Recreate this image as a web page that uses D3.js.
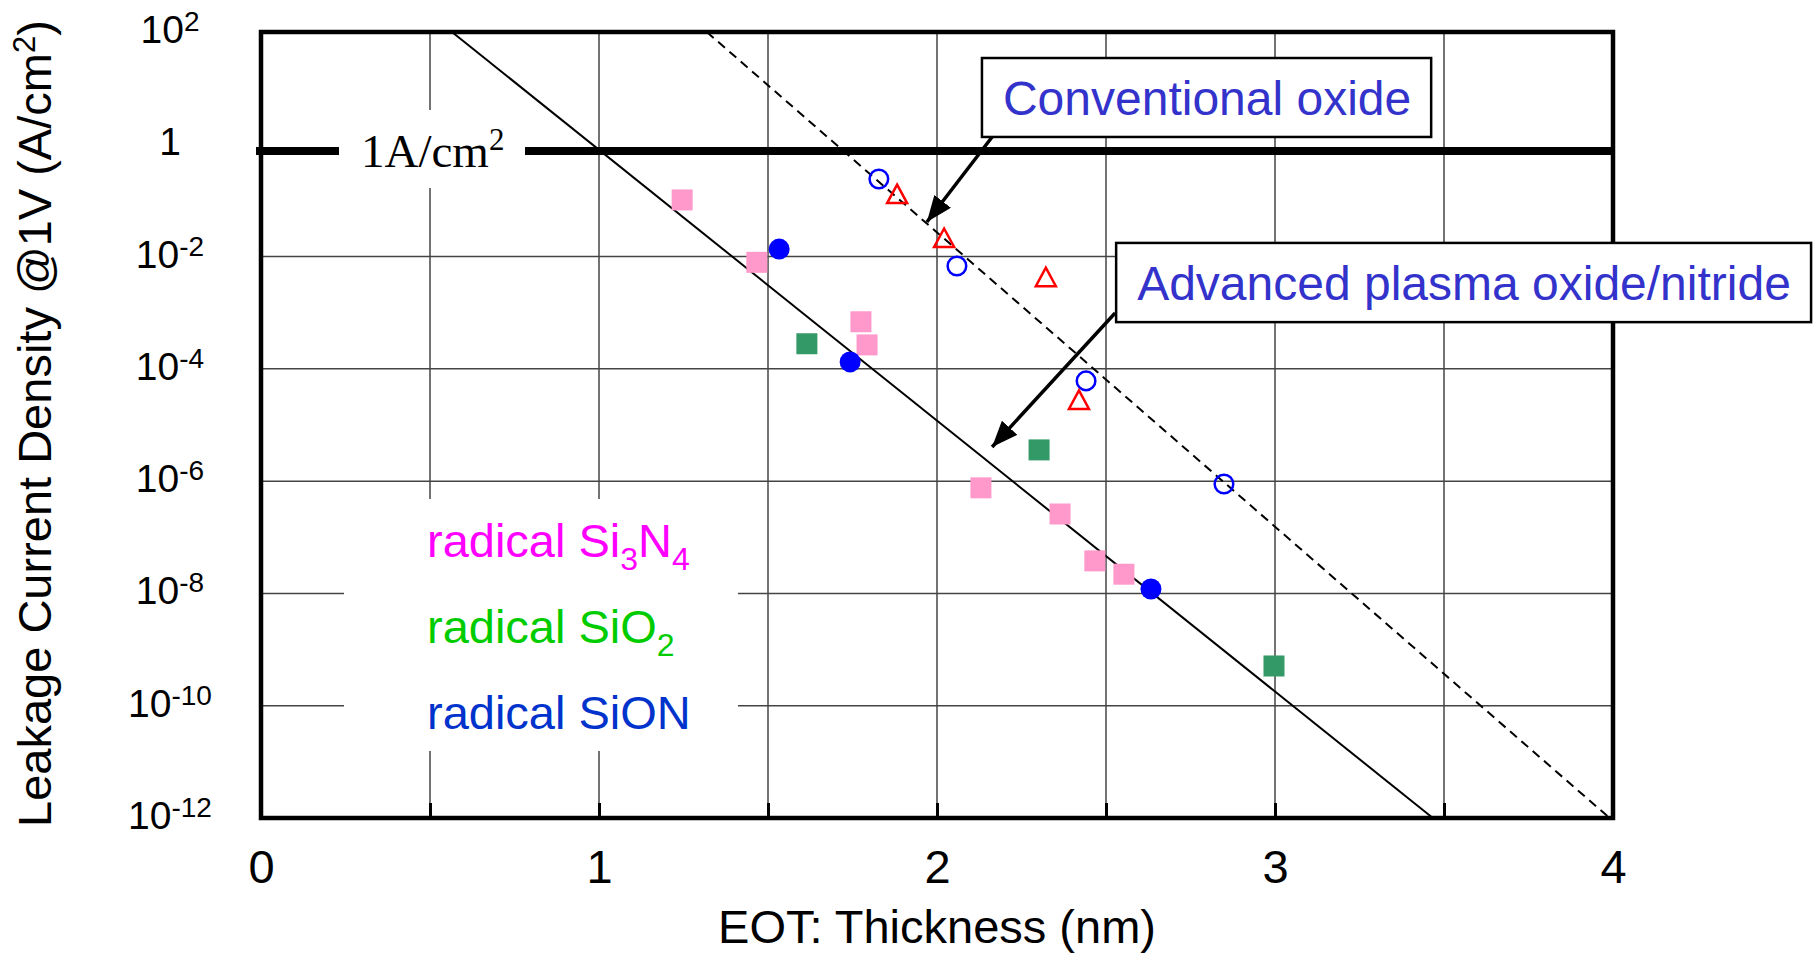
<!DOCTYPE html>
<meta charset="utf-8">
<style>
body{ margin:0; background:white; }
text{ font-family: "Liberation Sans", Arial, sans-serif; }
.serif{ font-family: "Liberation Serif", "Times New Roman", serif; }
</style>
<script src="https://d3js.org/d3.v7.min.js"></script>
<svg id="chart"></svg>
<script>
// data (x = EOT nm, y = A/cm2)
var si3n4X = [1.246, 1.467, 1.775, 1.793, 2.130, 2.364, 2.467, 2.553]
var si3n4Y = [1.02e-1, 7.9e-3, 6.9e-4, 2.67e-4, 7.6e-7, 2.6e-7, 3.8e-8, 2.2e-8]
var sio2X = [1.615, 2.302, 2.997]
var sio2Y = [2.8e-4, 3.6e-6, 5.1e-10]
var sionX = [1.533, 1.743, 2.633]
var sionY = [1.36e-2, 1.33e-4, 1.2e-8]
var convCircleX = [1.828, 2.059, 2.441, 2.849]
var convCircleY = [2.41e-1, 6.8e-3, 6.1e-5, 8.9e-7]
var convTriX = [1.882, 2.021, 2.322, 2.420]
var convTriY = [1.30e-1, 2.14e-2, 4.3e-3, 2.8e-5]

// fitted trend lines (end points)
var solidLineX = [0.565, 3.467], solidLineY = [1e2, 1e-12]
var dashLineX = [1.319, 3.99], dashLineY = [1e2, 1e-12]
var limitY = 0.76   // the "1A/cm2" bar

var xTicks = [0, 1, 2, 3, 4]
var xMinor = [0, 0.5, 1, 1.5, 2, 2.5, 3, 3.5, 4]
var xGrid = [0.5, 1, 1.5, 2, 2.5, 3, 3.5]
var yTickExp = [2, 0, -2, -4, -6, -8, -10, -12]
var yGrid = [1e-2, 1e-4, 1e-6, 1e-8, 1e-10]

var svg_width = 1818, svg_height = 953
var margin = {top: 32, left: 261, right: 205, bottom: 135}
var svg = d3.select('#chart').attr('width', svg_width).attr('height', svg_height)

var x = d3.scaleLinear().domain([0, 4]).range([margin.left, svg_width - margin.right])
var y = d3.scaleLog().domain([1e-12, 1e2]).range([svg_height - margin.bottom, margin.top])
var x0 = x(0), x1 = x(4), y0 = y(1e-12), y1 = y(1e2)

// grid
svg.append('g').selectAll('line').data(xGrid).enter().append('line')
  .attr('x1', d => x(d)).attr('x2', d => x(d)).attr('y1', y1).attr('y2', y0)
  .attr('stroke', '#444').attr('stroke-width', 1.5)
svg.append('g').selectAll('line').data(yGrid).enter().append('line')
  .attr('x1', x0).attr('x2', x1).attr('y1', d => y(d)).attr('y2', d => y(d))
  .attr('stroke', '#444').attr('stroke-width', 1.5)

// white patch behind the legend
svg.append('rect').attr('x', 344).attr('y', 499).attr('width', 394).attr('height', 252).attr('fill', 'white')

// trend lines
svg.append('line')
  .attr('x1', x(solidLineX[0])).attr('y1', y(solidLineY[0]))
  .attr('x2', x(solidLineX[1])).attr('y2', y(solidLineY[1]))
  .attr('stroke', 'black').attr('stroke-width', 2)
svg.append('line')
  .attr('x1', x(dashLineX[0])).attr('y1', y(dashLineY[0]))
  .attr('x2', x(dashLineX[1])).attr('y2', y(dashLineY[1]))
  .attr('stroke', 'black').attr('stroke-width', 2).attr('stroke-dasharray', '9,6')

// 1A/cm2 bar
svg.append('line').attr('x1', x0 - 5).attr('x2', x1).attr('y1', y(limitY)).attr('y2', y(limitY))
  .attr('stroke', 'black').attr('stroke-width', 8)
svg.append('rect').attr('x', 339).attr('y', 110).attr('width', 186).attr('height', 78).attr('fill', 'white')
var lim = svg.append('text').attr('class', 'serif').attr('x', 361).attr('y', y(limitY) + 16)
  .attr('font-size', 47).attr('fill', 'black')
lim.append('tspan').text('1A/cm')
lim.append('tspan').attr('dy', -17).attr('font-size', 31).text('2')

// points
var sq = 21
svg.append('g').selectAll('rect').data(d3.zip(si3n4X, si3n4Y)).enter().append('rect')
  .attr('x', d => x(d[0]) - sq / 2).attr('y', d => y(d[1]) - sq / 2)
  .attr('width', sq).attr('height', sq).attr('fill', '#FF99CC')
svg.append('g').selectAll('rect').data(d3.zip(sio2X, sio2Y)).enter().append('rect')
  .attr('x', d => x(d[0]) - sq / 2).attr('y', d => y(d[1]) - sq / 2)
  .attr('width', sq).attr('height', sq).attr('fill', '#339966')
svg.append('g').selectAll('circle').data(d3.zip(sionX, sionY)).enter().append('circle')
  .attr('cx', d => x(d[0])).attr('cy', d => y(d[1])).attr('r', 10.5).attr('fill', '#0000FF')
svg.append('g').selectAll('circle').data(d3.zip(convCircleX, convCircleY)).enter().append('circle')
  .attr('cx', d => x(d[0])).attr('cy', d => y(d[1])).attr('r', 9.3)
  .attr('fill', 'none').attr('stroke', '#0000FF').attr('stroke-width', 2.5)
svg.append('g').selectAll('path').data(d3.zip(convTriX, convTriY)).enter().append('path')
  .attr('d', d => {
    var cx = x(d[0]), cy = y(d[1])
    return 'M' + cx + ',' + (cy - 9.5) + 'L' + (cx + 10) + ',' + (cy + 9) + 'L' + (cx - 10) + ',' + (cy + 9) + 'Z'
  })
  .attr('fill', 'none').attr('stroke', '#FF0000').attr('stroke-width', 2.5)

// x axis: small inward ticks every 0.5, labels on whole numbers
var xAxis = svg.append('g').attr('transform', 'translate(0,' + y0 + ')')
  .call(d3.axisBottom(x).tickValues(xMinor).tickSize(-15).tickSizeOuter(0)
    .tickFormat(d => Number.isInteger(d) ? d : ''))
xAxis.select('.domain').remove()
xAxis.selectAll('.tick line').attr('stroke', 'black').attr('stroke-width', 3)
xAxis.selectAll('.tick text').attr('y', 65).attr('dy', null)
  .attr('font-size', 47).attr('fill', 'black').attr('font-family', '"Liberation Sans", Arial, sans-serif')

// y axis labels (10^n)
var yLab = svg.append('g').selectAll('text').data(yTickExp).enter().append('text')
  .attr('x', 170).attr('y', d => y(Math.pow(10, d)) + 11)
  .attr('text-anchor', 'middle').attr('font-size', 39).attr('fill', 'black')
yLab.each(function(d) {
  var t = d3.select(this)
  if (d === 0) { t.text('1'); return }
  t.append('tspan').text('10')
  t.append('tspan').attr('dy', -12).attr('font-size', 28).text(d)
})

// plot frame
svg.append('rect').attr('x', x0).attr('y', y1).attr('width', x1 - x0).attr('height', y0 - y1)
  .attr('fill', 'none').attr('stroke', 'black').attr('stroke-width', 4.5)

// axis titles
svg.append('text').attr('x', x(2)).attr('y', 943).attr('text-anchor', 'middle')
  .attr('font-size', 47).attr('fill', 'black').text('EOT: Thickness (nm)')
var yt = svg.append('text').attr('transform', 'translate(51,827) rotate(-90)')
  .attr('font-size', 47).attr('fill', 'black')
yt.append('tspan').text('Leakage Current Density @1V (A/cm')
yt.append('tspan').attr('dy', -16).attr('font-size', 31).text('2')
yt.append('tspan').attr('dy', 16).text(')')

// legend
var legend = [
  {label: ['radical Si', '3', 'N', '4'], color: '#FF00FF', base: 557},
  {label: ['radical SiO', '2'], color: '#00CC00', base: 643},
  {label: ['radical SiON'], color: '#0033CC', base: 729}
]
legend.forEach(function(l) {
  var t = svg.append('text').attr('x', 427).attr('y', l.base).attr('font-size', 47).attr('fill', l.color)
  l.label.forEach(function(s, i) {
    if (i % 2 == 1) t.append('tspan').attr('dy', 13).attr('font-size', 32).text(s)
    else t.append('tspan').attr('dy', i == 0 ? 0 : -13).text(s)
  })
})

// annotation call-outs: box corners and arrows in data units
var notes = [
  {text: 'Conventional oxide', x: [2.133, 3.462], y: [3.44e1, 1.35], tail: [2.163, 1.35], tip: [1.970, 4.13e-2]},
  {text: 'Advanced plasma oxide/nitride', x: [2.530, 4.586], y: [1.75e-2, 6.8e-4], tail: [2.527, 9.9e-4], tip: [2.163, 4.06e-6]}
]
svg.append('defs').append('marker').attr('id', 'head')
  .attr('viewBox', '0 0 26 21').attr('refX', 26).attr('refY', 10.5)
  .attr('markerWidth', 26).attr('markerHeight', 21).attr('markerUnits', 'userSpaceOnUse')
  .attr('orient', 'auto')
  .append('path').attr('d', 'M0,0L26,10.5L0,21Z').attr('fill', 'black')
notes.forEach(function(n) {
  svg.append('line')
    .attr('x1', x(n.tail[0])).attr('y1', y(n.tail[1]))
    .attr('x2', x(n.tip[0])).attr('y2', y(n.tip[1]))
    .attr('stroke', 'black').attr('stroke-width', 3.5).attr('marker-end', 'url(#head)')
  svg.append('rect').attr('x', x(n.x[0])).attr('y', y(n.y[0]))
    .attr('width', x(n.x[1]) - x(n.x[0])).attr('height', y(n.y[1]) - y(n.y[0]))
    .attr('fill', 'white').attr('stroke', 'black').attr('stroke-width', 2.5)
  svg.append('text').attr('x', x(n.x[0]) + 21).attr('y', y(n.y[0]) + 57)
    .attr('font-size', 48).attr('fill', '#3333CC').text(n.text)
})
</script>
